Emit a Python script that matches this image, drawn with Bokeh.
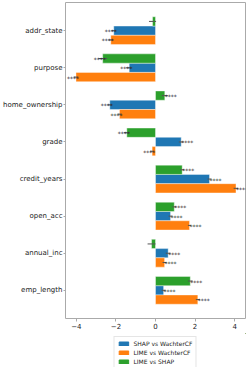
from bokeh.plotting import figure
from bokeh.models import (Range1d, FixedTicker, LinearAxis, Legend, LegendItem,
                          ColumnDataSource)
from bokeh.layouts import column
from bokeh.embed import file_html
from bokeh.resources import INLINE
from bokeh.core.properties import value

# ---- data (categories listed top to bottom as in the chart) ----
categories = ["addr_state", "purpose", "home_ownership", "grade",
              "credit_years", "open_acc", "annual_inc", "emp_length"]

shap_vs_wachter = [-2.11, -1.33, -2.31, 1.30, 2.73, 0.76, 0.64, 0.41]
lime_vs_wachter = [-2.26, -4.02, -1.82, -0.17, 4.07, 1.72, 0.46, 2.14]
lime_vs_shap = [-0.15, -2.67, 0.47, -1.45, 1.35, 0.95, -0.20, 1.76]

shap_vs_wachter_err = [0.12, 0.15, 0.12, 0.12, 0.10, 0.10, 0.12, 0.10]
lime_vs_wachter_err = [0.12, 0.12, 0.10, 0.10, 0.12, 0.08, 0.10, 0.10]
lime_vs_shap_err = [0.18, 0.22, 0.15, 0.15, 0.10, 0.10, 0.20, 0.12]

shap_vs_wachter_sig = ["****"] * 8
lime_vs_wachter_sig = ["****"] * 8
lime_vs_shap_sig = ["", "****", "****", "****", "****", "****", "", "****"]

series_names = ["SHAP vs WachterCF", "LIME vs WachterCF", "LIME vs SHAP"]
series_colors = ["#1f77b4", "#ff7f0e", "#2ca02c"]
series_offsets = [0.0, -0.25, 0.25]

x_ticks = [-4, -2, 0, 2, 4]
x_tick_labels = ["\u22124", "\u22122", "0", "2", "4"]

FONT = "DejaVu Sans"
W = 249
n = len(categories)
# bottom category at position 0
ypos = [n - 1 - i for i in range(n)]

p = figure(width=W, height=333, output_backend="svg", toolbar_location=None,
           x_range=Range1d(-4.55, 4.55), y_range=Range1d(-0.76, n - 1 + 0.76),
           x_axis_location=None, y_axis_location=None,
           min_border_left=65, min_border_right=4, min_border_top=2,
           min_border_bottom=15)
p.xgrid.visible = False
p.ygrid.visible = False
p.outline_line_color = "#aaaaaa"
p.outline_line_width = 1
p.background_fill_color = "white"
p.border_fill_color = "white"

series_vals = [shap_vs_wachter, lime_vs_wachter, lime_vs_shap]
series_errs = [shap_vs_wachter_err, lime_vs_wachter_err, lime_vs_shap_err]
series_sigs = [shap_vs_wachter_sig, lime_vs_wachter_sig, lime_vs_shap_sig]

for name, col, off, vals, errs, sigs in zip(series_names, series_colors,
                                             series_offsets, series_vals,
                                             series_errs, series_sigs):
    ys = [y + off for y in ypos]
    src = ColumnDataSource(dict(
        y=ys, right=vals,
        x0=[v - e for v, e in zip(vals, errs)],
        x1=[v + e for v, e in zip(vals, errs)],
    ))
    p.hbar(y="y", left=0, right="right", height=0.25, source=src,
           fill_color=col, line_color="white", line_alpha=0.5, line_width=0.8)
    p.segment(x0="x0", y0="y", x1="x1", y1="y", source=src,
              line_color="#555555", line_width=1)
    # significance stars
    pos = dict(x=[], y=[], t=[])
    neg = dict(x=[], y=[], t=[])
    for v, y, s in zip(vals, ys, sigs):
        d = pos if v >= 0 else neg
        d["x"].append(v)
        d["y"].append(y)
        d["t"].append(s)
    p.text(x="x", y="y", text="t", source=ColumnDataSource(pos),
           text_font=value(FONT), text_font_size="6px", text_align="left",
           text_baseline="middle", text_color="#222222", y_offset=1)
    p.text(x="x", y="y", text="t", source=ColumnDataSource(neg),
           text_font=value(FONT), text_font_size="6px", text_align="right",
           text_baseline="middle", text_color="#222222", x_offset=3, y_offset=1)

# axes
xaxis = LinearAxis(ticker=FixedTicker(ticks=x_ticks))
xaxis.major_label_overrides = {t: l for t, l in zip(x_ticks, x_tick_labels)}
yaxis = LinearAxis(ticker=FixedTicker(ticks=ypos))
yaxis.major_label_overrides = {y: c for y, c in zip(ypos, categories)}
for ax in (xaxis, yaxis):
    ax.axis_line_color = None
    ax.major_tick_line_color = "#aaaaaa"
    ax.major_tick_in = 0
    ax.minor_tick_line_color = None
    ax.major_label_text_font = FONT
    ax.major_label_text_font_size = "7px"
    ax.major_label_text_color = "#222222"
xaxis.major_tick_out = 3
xaxis.major_label_standoff = 1
yaxis.major_tick_out = 2
yaxis.major_label_standoff = 1
p.add_layout(xaxis, "below")
p.add_layout(yaxis, "left")

# ---- legend in a small companion figure aligned with the main frame ----
lg = figure(width=W, height=34, output_backend="svg", toolbar_location=None,
            x_range=Range1d(0, 1), y_range=Range1d(0, 1),
            x_axis_location=None, y_axis_location=None,
            min_border_left=65, min_border_right=4, min_border_top=0,
            min_border_bottom=0)
lg.xgrid.visible = False
lg.ygrid.visible = False
lg.outline_line_color = None
# one off-screen sample per series so the legend can draw its swatch
offscreen = ColumnDataSource(dict(y=[10], right=[10]))
leg_renderers = [lg.hbar(y="y", left=9, right="right", height=0.25,
                         source=offscreen, fill_color=c, line_color=c)
                 for c in series_colors]
legend = Legend(items=[LegendItem(label=nm, renderers=[r])
                       for nm, r in zip(series_names, leg_renderers)],
                location="top_center", orientation="vertical")
legend.label_text_font = FONT
legend.label_text_font_size = "6px"
legend.label_text_color = "#222222"
legend.glyph_width = 12
legend.glyph_height = 5
legend.label_height = 7
legend.label_standoff = 4
legend.spacing = 2
legend.padding = 3
legend.margin = 3
legend.border_line_color = "#cccccc"
legend.border_line_width = 1
lg.add_layout(legend)

layout = column(p, lg, spacing=0)
open("out.html", "w").write(file_html(layout, INLINE))
